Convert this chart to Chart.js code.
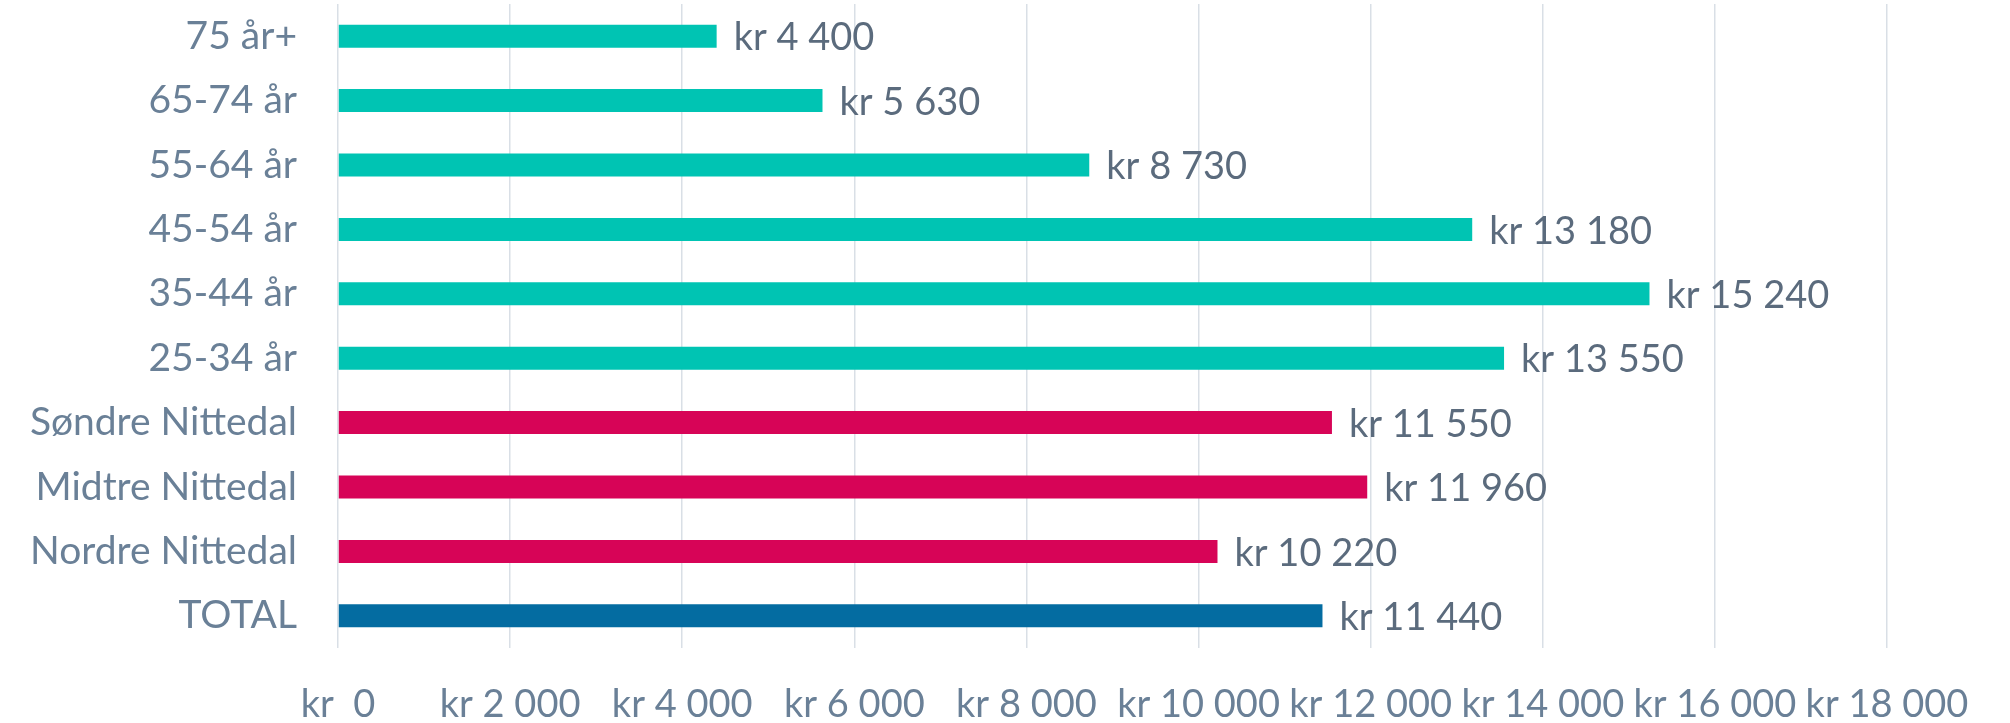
<!DOCTYPE html>
<html lang="no">
<head>
<meta charset="utf-8">
<title>Gjennomsnittlig beløp</title>
<script src="https://cdn.jsdelivr.net/npm/chart.js@4.4.1/dist/chart.umd.min.js"></script>
<style>
  html, body { margin: 0; padding: 0; background: #ffffff; }
  #wrap { width: 2010px; height: 723px; position: relative; }
</style>
</head>
<body>
<div id="wrap"><canvas id="chart"></canvas></div>
<script>
// Categories, top to bottom
const categories = [
  '75 år+', '65-74 år', '55-64 år', '45-54 år', '35-44 år', '25-34 år',
  'Søndre Nittedal', 'Midtre Nittedal', 'Nordre Nittedal', 'TOTAL'
];

// Amount per category (kr)
const amounts = [4400, 5630, 8730, 13180, 15240, 13550, 11550, 11960, 10220, 11440];

// Group of each category: age band, district, or the overall total
const groups = ['age', 'age', 'age', 'age', 'age', 'age', 'area', 'area', 'area', 'total'];

// Axis ticks (kr)
const tickValues = [0, 2000, 4000, 6000, 8000, 10000, 12000, 14000, 16000, 18000];

const groupColors = { age: '#00C4B3', area: '#D70457', total: '#046CA1' };

const FONT = 'Lato, "Open Sans", sans-serif';

function formatKr(v) {
  return String(Math.round(v)).replace(/\B(?=(\d{3})+(?!\d))/g, ' ');
}

// Writes "kr <amount>" just past the end of each bar
const valueLabels = {
  id: 'valueLabels',
  afterDatasetsDraw(chart) {
    const ctx = chart.ctx;
    ctx.save();
    ctx.font = '38px ' + FONT;
    ctx.fillStyle = '#5B6B7D';
    ctx.textAlign = 'left';
    ctx.textBaseline = 'middle';
    chart.data.datasets.forEach((ds, di) => {
      chart.getDatasetMeta(di).data.forEach((bar, i) => {
        ctx.fillText('kr ' + formatKr(ds.data[i]), bar.x + 17, bar.y + 2);
      });
    });
    ctx.restore();
  }
};

new Chart(document.getElementById('chart'), {
  type: 'bar',
  data: {
    labels: categories,
    datasets: [{
      data: amounts,
      backgroundColor: groups.map(g => groupColors[g]),
      borderWidth: 0,
      categoryPercentage: 1,
      barPercentage: 0.357
    }]
  },
  options: {
    indexAxis: 'y',
    responsive: true,
    maintainAspectRatio: false,
    animation: false,
    layout: { padding: { top: 4, right: 123, bottom: 0, left: 0 } },
    plugins: {
      legend: { display: false },
      tooltip: { enabled: false }
    },
    scales: {
      x: {
        min: 0,
        max: 18000,
        afterBuildTicks(scale) {
          scale.ticks = tickValues.map(v => ({ value: v }));
        },
        afterFit(scale) {
          scale.height = 75;
          scale.paddingLeft = 0;
          scale.paddingRight = 0;
        },
        grid: { color: '#D9DFE6', lineWidth: 1.5, drawTicks: false },
        border: { display: false },
        ticks: {
          padding: 34,
          color: '#6A8097',
          font: { family: FONT, size: 38 },
          maxRotation: 0,
          autoSkip: false,
          callback: v => v === 0 ? 'kr  0' : 'kr ' + formatKr(v)
        }
      },
      y: {
        grid: { display: false, drawTicks: false },
        border: { display: false },
        afterFit(scale) {
          scale.width = 338;
          scale.paddingTop = 0;
          scale.paddingBottom = 0;
        },
        ticks: {
          padding: 41,
          color: '#6A8097',
          font: { family: FONT, size: 39 },
          autoSkip: false
        }
      }
    }
  },
  plugins: [valueLabels]
});
</script>
</body>
</html>
